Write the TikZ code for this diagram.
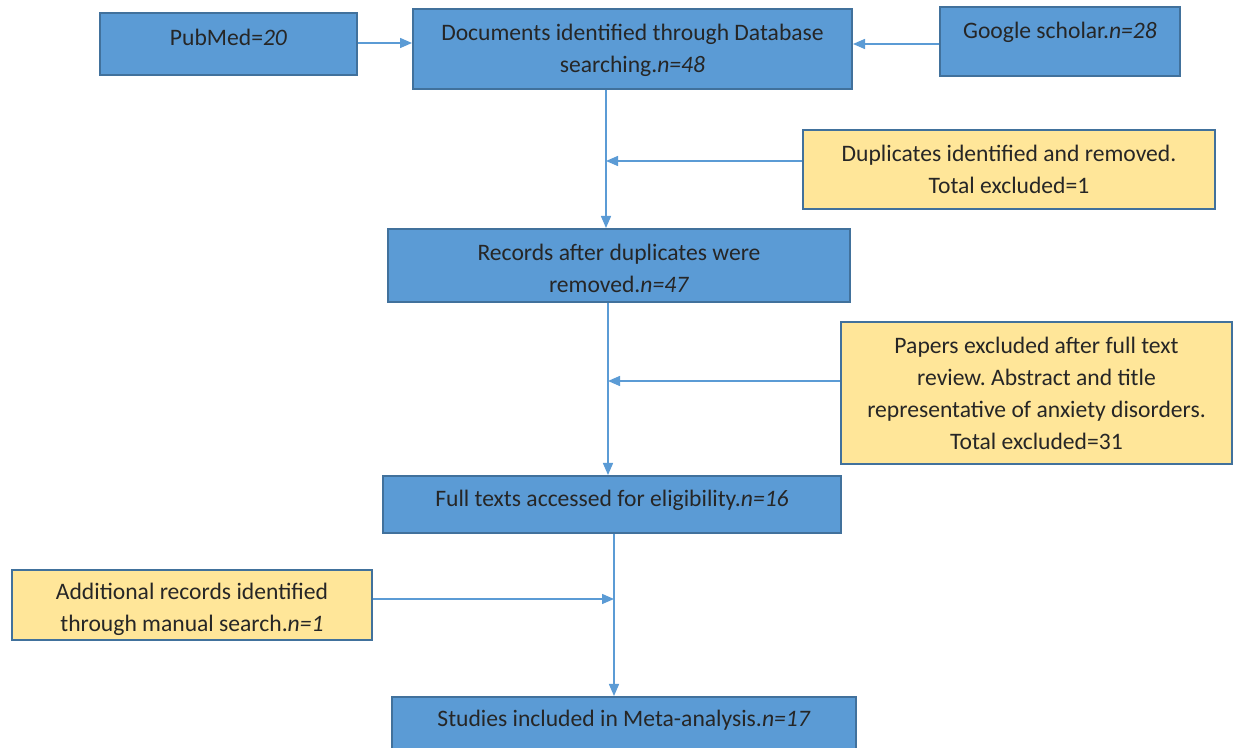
\documentclass[tikz,border=0pt]{standalone}
\usepackage{fontspec}
\setmainfont{Carlito}
\usetikzlibrary{arrows.meta,fit}
\definecolor{boxblue}{HTML}{5B9BD5}
\definecolor{edgeblue}{HTML}{41719C}
\definecolor{boxyellow}{HTML}{FFE699}
\definecolor{arrowblue}{HTML}{5B9BD5}
\frenchspacing
\begin{document}
\begin{tikzpicture}[x=0.5pt,y=-0.5pt,
  bluebox/.style={draw=edgeblue, fill=boxblue, line width=1pt, inner sep=0pt},
  yellowbox/.style={draw=edgeblue, fill=boxyellow, line width=1pt, inner sep=0pt},
  txt/.style={align=center, font=\fontsize{11.8}{16}\selectfont, text=black!85, inner sep=0pt},
  link/.style={draw=arrowblue, line width=0.7pt, -{Triangle[length=6pt,width=5pt]}}]
\useasboundingbox (0,0) rectangle (1238,748);
\clip (0,0) rectangle (1238,748);
\fill[white] (0,0) rectangle (1238,748);
% boxes
\node[bluebox, fit={(100,13) (357,75)}] (pub) {};
\node[txt] (pubT) at (228.5,37) {PubMed=\textit{20}};
\node[bluebox, fit={(413,9) (852,89)}] (doc) {};
\node[txt] (docT) at (632.5,50) {Documents identified through Database\\searching.\textit{n=48}};
\node[bluebox, fit={(940,7) (1180,76)}] (gs) {};
\node[txt] (gsT) at (1060,32) {Google scholar.\textit{n=28}};
\node[yellowbox, fit={(803,130) (1215,209)}] (dup) {};
\node[txt] (dupT) at (1009,169) {Duplicates identified and removed.\\Total excluded=1};
\node[bluebox, fit={(388,229) (850,302)}] (rec) {};
\node[txt] (recT) at (619,268) {Records after duplicates were\\removed.\textit{n=47}};
\node[yellowbox, fit={(841,322) (1232,464)}] (pap) {};
\node[txt] (papT) at (1036.5,393) {Papers excluded after full text\\review. Abstract and title\\representative of anxiety disorders.\\Total excluded=31};
\node[bluebox, fit={(383,476) (841,533)}] (full) {};
\node[txt] (fullT) at (612,500) {Full texts accessed for eligibility.\textit{n=16}};
\node[yellowbox, fit={(12,570) (372,640)}] (add) {};
\node[txt] (addT) at (192,609) {Additional records identified\\through manual search.\textit{n=1}};
\node[bluebox, fit={(392,697) (856,770)}] (stu) {};
\node[txt] (stuT) at (624,720) {Studies included in Meta-analysis.\textit{n=17}};
% junctions
\coordinate (c1) at (606,161);
\coordinate (c2) at (608,381);
\coordinate (c3) at (614,599);
% connectors
\draw[link] (pub.east |- 0,43) -- (doc.west |- 0,43);
\draw[link] (gs.west |- 0,44) -- (doc.east |- 0,44);
\draw[link] (doc.south -| c1) -- (c1 |- rec.north);
\draw[link] (dup.west |- c1) -- (c1);
\draw[link] (rec.south -| c2) -- (c2 |- full.north);
\draw[link] (pap.west |- c2) -- (c2);
\draw[link] (full.south -| c3) -- (c3 |- stu.north);
\draw[link] (add.east |- c3) -- (c3);
\end{tikzpicture}
\end{document}
